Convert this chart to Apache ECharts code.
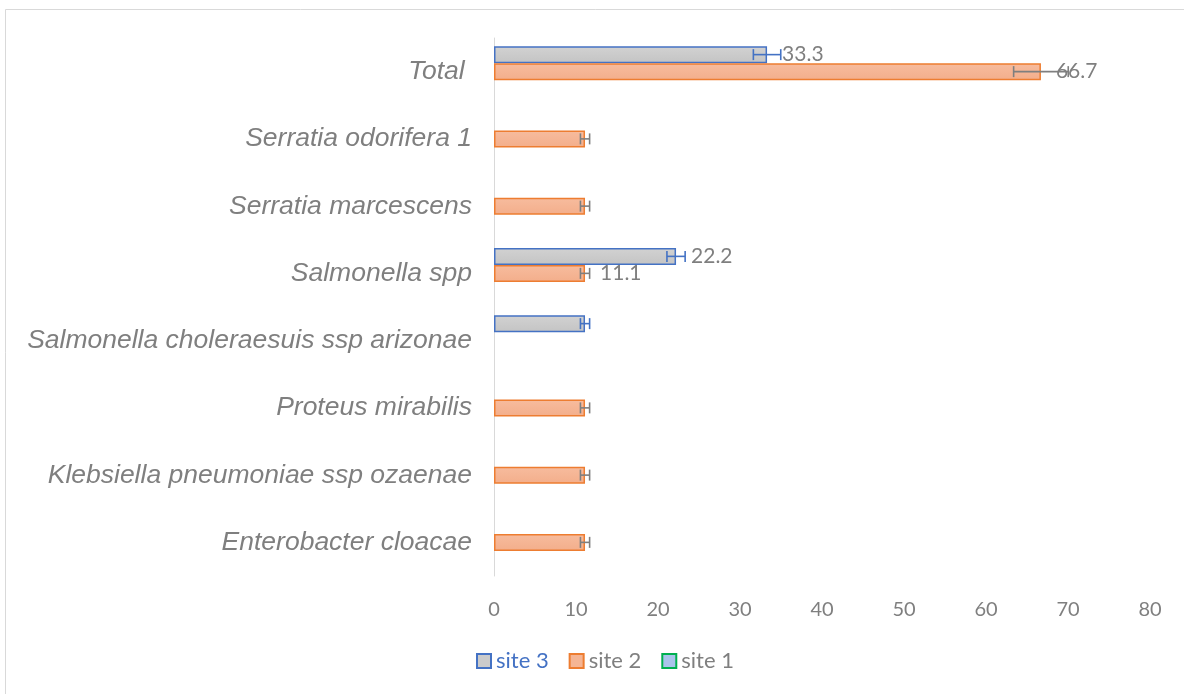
<!DOCTYPE html>
<html>
<head>
<meta charset="utf-8">
<script src="https://cdn.jsdelivr.net/npm/echarts@6/dist/echarts.min.js"></script>
<style>
html,body{margin:0;padding:0;background:#fff;}
#chart{width:1184px;height:694px;}
</style>
</head>
<body>
<div id="chart"></div>
<script>
// Categories listed bottom-to-top
var categories = ['Enterobacter cloacae', 'Klebsiella pneumoniae ssp ozaenae', 'Proteus mirabilis', 'Salmonella choleraesuis ssp arizonae', 'Salmonella spp', 'Serratia marcescens', 'Serratia odorifera 1', 'Total '];
var site3 = [0, 0, 0, 11.1, 22.2, 0, 0, 33.3];
var site2 = [11.1, 11.1, 11.1, 0, 11.1, 11.1, 11.1, 66.7];
var site1 = [0, 0, 0, 0, 0, 0, 0, 0];
var site3Err = [0, 0, 0, 0.56, 1.11, 0, 0, 1.67];
var site2Err = [0.56, 0.56, 0.56, 0, 0.56, 0.56, 0.56, 3.33];
var labeledCategories = ['Total ', 'Salmonella spp'];
var xTicks = [0, 10, 20, 30, 40, 50, 60, 70, 80];

var BAR_W = 17;
var chart = echarts.init(document.getElementById('chart'));

function barData(arr) {
  return arr.map(function (v) { return v === 0 ? null : v; });
}
function errData(vals, errs) {
  var out = [];
  vals.forEach(function (v, i) { if (errs[i] > 0) out.push([v, i, errs[i]]); });
  return out;
}
function errSeries(name, vals, errs, color, offset) {
  return {
    type: 'custom',
    name: name + ' err',
    z: 5,
    silent: true,
    encode: { x: 0, y: 1 },
    data: errData(vals, errs),
    renderItem: function (params, api) {
      var v = api.value(0), idx = api.value(1), e = api.value(2);
      var lo = api.coord([v - e, idx]);
      var hi = api.coord([v + e, idx]);
      var y = lo[1] + offset;
      var h = 5.5;
      var st = { stroke: color, lineWidth: 1.6 };
      return {
        type: 'group',
        children: [
          { type: 'line', shape: { x1: lo[0], y1: y, x2: hi[0], y2: y }, style: st },
          { type: 'line', shape: { x1: lo[0], y1: y - h, x2: lo[0], y2: y + h }, style: st },
          { type: 'line', shape: { x1: hi[0], y1: y - h, x2: hi[0], y2: y + h }, style: st }
        ]
      };
    }
  };
}
var labelCfg = {
  show: true,
  position: 'right',
  distance: 15,
  color: '#7f7f7f',
  fontSize: 21,
  fontFamily: 'Lato',
  formatter: function (p) {
    return (labeledCategories.indexOf(p.name) >= 0 && p.value) ? p.value.toFixed(1) : '';
  }
};

var option = {
  animation: false,
  backgroundColor: '#fff',
  graphic: [{
    type: 'rect',
    shape: { x: 5.5, y: 9.5, width: 1200, height: 720 },
    style: { fill: 'none', stroke: '#d9d9d9', lineWidth: 1 },
    silent: true
  }],
  grid: { left: 494, right: 34, top: 38, bottom: 118 },
  legend: {
    top: 645,
    left: 471,
    itemWidth: 14,
    itemHeight: 14,
    itemGap: 20,
    textStyle: { fontSize: 22, color: '#7f7f7f', fontFamily: 'Lato' },
    data: [
      { name: 'site 3', icon: 'rect', textStyle: { color: '#4472c4' }, itemStyle: { color: '#cbcbcb', borderColor: '#4472c4', borderWidth: 2 } },
      { name: 'site 2', icon: 'rect', itemStyle: { color: '#f5b594', borderColor: '#ed7d31', borderWidth: 2 } },
      { name: 'site 1', icon: 'rect', itemStyle: { color: '#a9c4eb', borderColor: '#00b050', borderWidth: 2 } }
    ]
  },
  xAxis: {
    type: 'value',
    min: 0, max: 80, interval: 10,
    axisLine: { show: false },
    axisTick: { show: false },
    splitLine: { show: false },
    axisLabel: {
      color: '#7f7f7f', fontSize: 20, fontFamily: 'Lato', margin: 24,
      formatter: function (v) { return xTicks.indexOf(v) >= 0 ? String(v) : ''; }
    }
  },
  yAxis: {
    type: 'category',
    data: categories,
    axisLine: { show: true, lineStyle: { color: '#d9d9d9', width: 1 } },
    axisTick: { show: false },
    axisLabel: {
      color: '#7f7f7f', fontSize: 26.5, fontStyle: 'italic', fontFamily: 'Liberation Sans', margin: 22
    }
  },
  series: [
    {
      type: 'bar', name: 'site 3', data: barData(site3), barWidth: BAR_W, barGap: '0%',
      itemStyle: { color: new echarts.graphic.LinearGradient(0, 0, 0, 1, [{ offset: 0, color: '#d2d2d2' }, { offset: 1, color: '#c4c4c4' }]), borderColor: '#4472c4', borderWidth: 1.5 },
      label: labelCfg
    },
    {
      type: 'bar', name: 'site 2', data: barData(site2), barWidth: BAR_W, barGap: '0%',
      itemStyle: { color: new echarts.graphic.LinearGradient(0, 0, 0, 1, [{ offset: 0, color: '#f7bc9e' }, { offset: 1, color: '#f3ae8b' }]), borderColor: '#ed7d31', borderWidth: 1.5 },
      label: labelCfg
    },
    {
      type: 'bar', name: 'site 1', data: barData(site1), barWidth: BAR_W, barGap: '0%',
      itemStyle: { color: '#a9c4eb', borderColor: '#00b050', borderWidth: 1.5 },
      label: labelCfg
    },
    errSeries('site 3', site3, site3Err, '#4472c4', -BAR_W),
    errSeries('site 2', site2, site2Err, '#7f7f7f', 0)
  ]
};
chart.setOption(option);
</script>
</body>
</html>
